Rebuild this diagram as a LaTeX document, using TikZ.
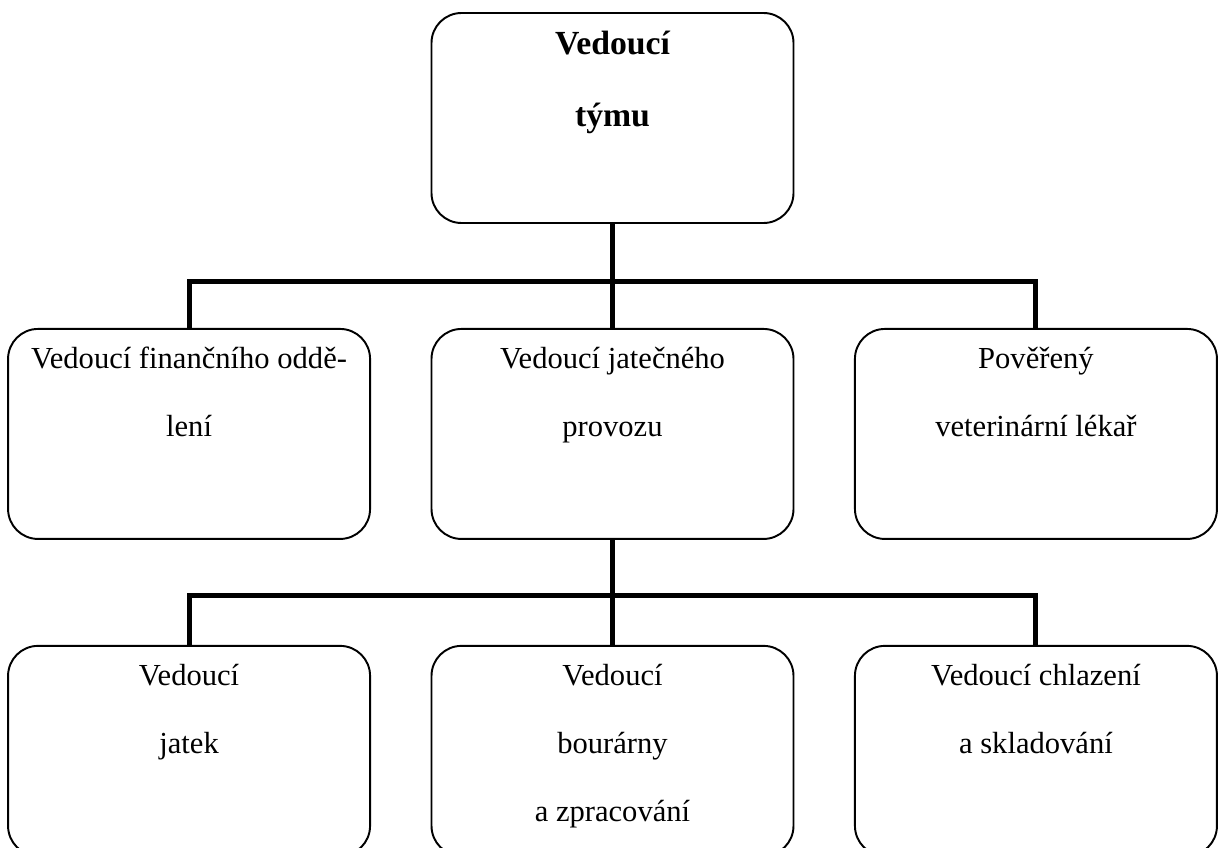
\documentclass[tikz,border=0pt]{standalone}
\usepackage{fontspec}
\setmainfont{Liberation Serif}
\usetikzlibrary{positioning, calc}

\newcommand{\boxtext}[1]{\parbox[c][4.2cm][t]{7.24cm}{\vspace*{0.37cm}\centering\fontsize{17.4}{38.7}\selectfont #1}}

\begin{document}
\begin{tikzpicture}[
    node distance=2.08cm and 1.19cm,
    orgbox/.style={draw, rounded corners=0.6cm, line width=1.1pt, fill=white, minimum width=7.24cm, minimum height=4.2cm, inner sep=0pt},
    link/.style={line width=2.9pt}
  ]
  \useasboundingbox (0,0) rectangle (24.42,-16.94);
  \clip (0,0) rectangle (24.42,-16.94);

  \node (lead) [orgbox] at (12.25,-2.36) {\boxtext{\fontsize{19.2}{40.5}\selectfont\bfseries Vedoucí\\týmu}};
  \node (prov) [orgbox, below=of lead] {\boxtext{Vedoucí jatečného\\provozu}};
  \node (fin) [orgbox, left=of prov] {\boxtext{Vedoucí finančního oddě-\\lení}};
  \node (vet) [orgbox, right=of prov] {\boxtext{Pověřený\\veterinární lékař}};
  \node (bour) [orgbox, below=2.1cm of prov] {\boxtext{Vedoucí\\bourárny\\a zpracování}};
  \node (jat) [orgbox, left=of bour] {\boxtext{Vedoucí\\jatek}};
  \node (chlaz) [orgbox, right=of bour] {\boxtext{Vedoucí chlazení\\a skladování}};

  \coordinate (fork1) at ($(lead.south)!0.55!(prov.north)$);
  \coordinate (fork2) at ($(prov.south)!0.53!(bour.north)$);

  \draw[link] (lead.south) -- (prov.north);
  \draw[link] (fin.north) |- (fork1) -| (vet.north);
  \draw[link] (prov.south) -- (bour.north);
  \draw[link] (jat.north) |- (fork2) -| (chlaz.north);

\end{tikzpicture}
\end{document}
